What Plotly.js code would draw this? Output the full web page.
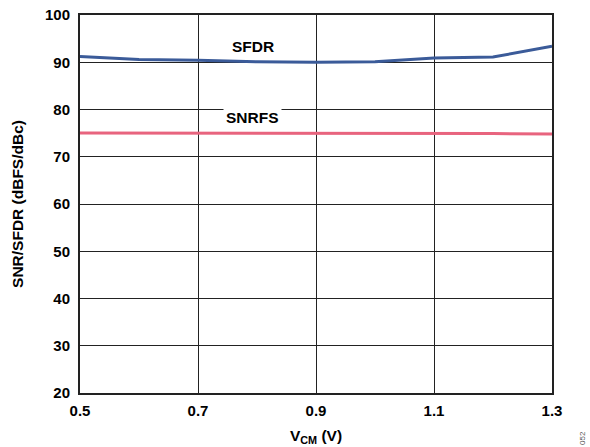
<!DOCTYPE html>
<html><head><meta charset="utf-8">
<script src="https://cdn.plot.ly/plotly-3.0.1.min.js"></script>
<style>body{margin:0;padding:0;background:#fff}#chart{width:590px;height:447px}</style>
</head><body><div id="chart"></div>
<script>
var vcm = [0.5, 0.6, 0.7, 0.8, 0.9, 1.0, 1.1, 1.2, 1.3];
var sfdr = [91.2, 90.6, 90.4, 90.1, 90.0, 90.1, 90.9, 91.1, 93.4];
var snrfs = [75.0, 75.0, 75.0, 75.0, 75.0, 75.0, 74.9, 74.9, 74.8];
var xTicks = [0.5, 0.7, 0.9, 1.1, 1.3];
var yTicks = [20, 30, 40, 50, 60, 70, 80, 90, 100];

var fam = 'Liberation Sans, Arial, sans-serif';
var fnt = {family: fam, size: 15, color: '#000'};
var tfnt = {family: fam, size: 15.5, color: '#000'};
var traces = [
  {x: vcm, y: sfdr, mode: 'lines', line: {color: '#3b5b99', width: 3}, hoverinfo: 'skip'},
  {x: vcm, y: snrfs, mode: 'lines', line: {color: '#e8647e', width: 3}, hoverinfo: 'skip'}
];
var layout = {
  width: 590, height: 447,
  margin: {l: 80, r: 38, t: 15, b: 54},
  paper_bgcolor: '#fff', plot_bgcolor: '#fff',
  showlegend: false,
  font: fnt,
  xaxis: {
    range: [0.5, 1.3], tickvals: xTicks, ticktext: xTicks.map(function(v){return '<b>'+v.toFixed(1)+'</b>';}),
    showgrid: true, gridcolor: '#222', gridwidth: 1, zeroline: false,
    showline: true, linecolor: '#222', linewidth: 2, mirror: true,
    ticks: '', ticklen: 0, tickfont: fnt, ticklabelstandoff: 3,
    title: {text: '<b>V<sub>CM</sub> (V)</b>', font: tfnt, standoff: 12}
  },
  yaxis: {
    range: [20, 100], tickvals: yTicks, ticktext: yTicks.map(function(v){return '<b>'+v+'</b>';}),
    showgrid: true, gridcolor: '#222', gridwidth: 1, zeroline: false,
    showline: true, linecolor: '#222', linewidth: 2, mirror: true,
    ticks: '', ticklen: 0, tickfont: fnt, ticklabelstandoff: 5,
    title: {text: '<b>SNR/SFDR (dBFS/dBc)</b>', font: tfnt, standoff: 18}
  },
  annotations: [
    {x: 0.793, y: 93.4, xref: 'x', yref: 'y', text: '<b>SFDR</b>', showarrow: false, font: tfnt},
    {x: 0.793, y: 78.4, xref: 'x', yref: 'y', text: '<b>SNRFS</b>', showarrow: false, font: tfnt, bgcolor: '#fff', borderpad: 2},
    {x: 0, y: 0, xref: 'paper', yref: 'paper', text: '052', showarrow: false, textangle: -90,
     xanchor: 'center', yanchor: 'middle', font: {family: fam, size: 8, color: '#555'}}
  ]
};
layout.annotations[2].x = (582 - 80) / (590 - 80 - 38);
layout.annotations[2].y = (447 - 54 - 438) / (447 - 15 - 54);
Plotly.newPlot('chart', traces, layout, {staticPlot: true});
</script></body></html>
